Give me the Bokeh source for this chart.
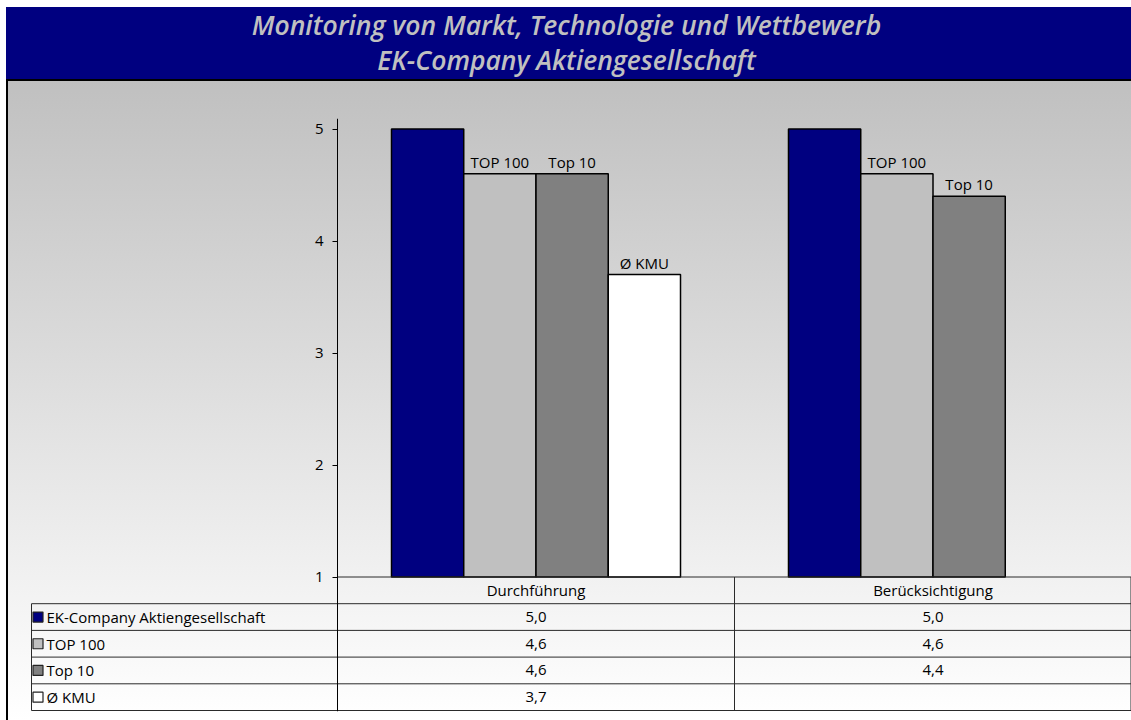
from bokeh.plotting import figure
from bokeh.models import ColumnDataSource, Range1d, FixedTicker, Div
from bokeh.layouts import column
from bokeh.core.properties import value
from bokeh.embed import file_html
from bokeh.resources import INLINE

# ---- data -----------------------------------------------------------------
TITLE_1 = "Monitoring von Markt, Technologie und Wettbewerb"
TITLE_2 = "EK-Company Aktiengesellschaft"

categories = ["Durchführung", "Berücksichtigung"]
series_names = ["EK-Company Aktiengesellschaft", "TOP 100", "Top 10", "Ø KMU"]
bar_labels = [None, "TOP 100", "Top 10", "Ø KMU"]   # printed above the bars

ek_company = [5.0, 5.0]
top_100 = [4.6, 4.6]
top_10 = [4.6, 4.4]
kmu = [3.7, None]

y_ticks = [1, 2, 3, 4, 5]

series_values = [ek_company, top_100, top_10, kmu]
series_colors = ["#000080", "#c0c0c0", "#808080", "#ffffff"]

# ---- layout ---------------------------------------------------------------
FONT = "Open Sans"
FS = "15px"
INNER_W = 1123            # width inside the black frame
INNER_H = 639
LEFT_PAD = 22
TOP_PAD = 37
FRAME_W = INNER_W - LEFT_PAD
CAT_PX = 397              # pixels per category
ncat = len(categories)
X1 = ncat
X0 = X1 - FRAME_W / CAT_PX          # left end of the frame, category units
LEG_LEFT = X0 + 1.0 / CAT_PX        # left edge of the legend column

UNIT_PX = 112.0           # pixels per scale point
ABOVE_BASE = 458.5        # chart height above the value 1
BELOW_BASE = 134.5        # table area below the value 1
ROW_PX = 26.7
FRAME_H = ABOVE_BASE + BELOW_BASE
BAR_W = 0.182


def fmt(v):
    return f"{v:.1f}".replace(".", ",")


# ---- title banner -----------------------------------------------------------
banner_html = (
    '<div style="width:1125px;text-align:center;color:#c0c0c0;'
    "font-family:'Open Sans';font-style:italic;font-weight:600;"
    'font-size:26.5px;line-height:35px;padding-top:1px;padding-right:4px;">'
    f"{TITLE_1}<br>{TITLE_2}</div>"
)
banner = Div(text=banner_html, width=1125, height=72, margin=(7, 0, 0, 6),
             styles={"background-color": "#000080", "overflow": "hidden"})

# ---- chart + data table in one frame ----------------------------------------
p = figure(width=INNER_W, height=INNER_H,
           x_range=Range1d(X0, X1),
           y_range=Range1d(1 - BELOW_BASE / UNIT_PX, 1 + ABOVE_BASE / UNIT_PX),
           min_border_left=LEFT_PAD, min_border_right=0,
           min_border_top=TOP_PAD,
           min_border_bottom=INNER_H - TOP_PAD - int(FRAME_H),
           x_axis_location=None, toolbar_location=None, output_backend="svg",
           background_fill_color=None, border_fill_color=None,
           outline_line_color=None)
p.grid.visible = False
n_rows = len(series_names) + 1
p.extra_y_ranges = {"table": Range1d(BELOW_BASE / ROW_PX, -ABOVE_BASE / ROW_PX)}

ax = p.yaxis[0]
ax.fixed_location = 0
ax.ticker = FixedTicker(ticks=y_ticks)
ax.major_tick_out = 5
ax.major_tick_in = 0
ax.minor_tick_out = 0
ax.minor_tick_in = 0
ax.axis_line_color = "black"
ax.major_tick_line_color = "black"
ax.major_label_standoff = 9
ax.major_label_text_font = FONT
ax.major_label_text_font_size = FS
ax.major_label_text_color = "black"

# bars, grouped per category
n_series = len(series_values)
for i, (vals, color) in enumerate(zip(series_values, series_colors)):
    off = (i - (n_series - 1) / 2) * BAR_W
    xs = [k + 0.5 + off for k, v in enumerate(vals) if v is not None]
    tops = [v for v in vals if v is not None]
    src = ColumnDataSource(dict(x=xs, top=tops, label=[bar_labels[i] or ""] * len(xs)))
    p.vbar(x="x", top="top", bottom=1, width=BAR_W, source=src,
           fill_color=color, line_color="black", line_width=1.5)
    if bar_labels[i]:
        p.text(x="x", y="top", text="label", source=src,
               text_align="center", text_baseline="alphabetic", y_offset=-12,
               text_font=value(FONT), text_font_size=FS, text_color="black")

# table rules
LINE = "#2a2a2a"
hx0 = [0] + [LEG_LEFT] * (n_rows - 1)
hx1 = [ncat] * n_rows
hy = list(range(n_rows))
p.segment(x0=hx0, y0=hy, x1=hx1, y1=hy, line_color=LINE, line_width=1,
          y_range_name="table")
p.segment(x0=[LEG_LEFT], y0=[n_rows], x1=[ncat], y1=[n_rows], line_color=LINE,
          line_width=1, y_range_name="table")
vx = [LEG_LEFT] + list(range(1, ncat + 1))
vy0 = [1] + [0] * ncat
vy1 = [n_rows] * (ncat + 1)
p.segment(x0=vx, y0=vy0, x1=vx, y1=vy1, line_color=LINE,
          line_width=[1] * ncat + [2], y_range_name="table")

# header with the category names
p.text(x=[k + 0.5 for k in range(ncat)], y=[0.5] * ncat, text=categories,
       text_align="center", text_baseline="middle", y_range_name="table",
       text_font=value(FONT), text_font_size=FS, text_color="black")

# legend column: swatch + series name
rows_y = [r + 1.5 for r in range(len(series_names))]
p.scatter(x=[LEG_LEFT + 6.5 / CAT_PX] * len(series_names), y=rows_y,
          marker="square", size=10, fill_color=series_colors,
          line_color="#222222", line_width=1.2, y_range_name="table")
p.text(x=[LEG_LEFT] * len(series_names), y=rows_y, text=series_names,
       x_offset=15, text_align="left", text_baseline="middle",
       y_range_name="table",
       text_font=value(FONT), text_font_size=FS, text_color="black")

# value cells
cx, cy, ct = [], [], []
for r, vals in enumerate(series_values):
    for k, v in enumerate(vals):
        if v is not None:
            cx.append(k + 0.5)
            cy.append(r + 1.5)
            ct.append(fmt(v))
p.text(x=cx, y=cy, text=ct, text_align="center", text_baseline="middle",
       y_range_name="table",
       text_font=value(FONT), text_font_size=FS, text_color="black")

body = column(p, margin=(0, 0, 0, 6),
              styles={"background": "linear-gradient(to bottom, #c0c0c0 0%, #ffffff 100%)",
                      "border-top": "2px solid #000", "border-left": "2px solid #000"})
root = column(banner, body)

open("out.html", "w").write(file_html(root, INLINE))
